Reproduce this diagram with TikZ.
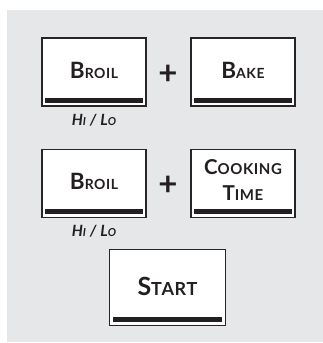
\documentclass[tikz,border=0pt]{standalone}
\usepackage{fontspec}
\setmainfont{Lato}
\usepackage{tikz}
\usetikzlibrary{positioning}

\definecolor{panelgray}{HTML}{E6E7E9}
\definecolor{keyline}{HTML}{262425}
\definecolor{keybar}{HTML}{231F20}

% fake small caps: big first letter, smaller rest
\newcommand{\capword}[4]{{\fontsize{#3}{#3}\selectfont #1}{\fontsize{#4}{#4}\selectfont #2}}
\newcommand{\hilo}{\bfseries\itshape{\fontsize{15.5}{15}\selectfont H}{\fontsize{11}{15}\selectfont I}\,\ {\fontsize{15.5}{15}\selectfont /}\ \,{\fontsize{15.5}{15}\selectfont L}{\fontsize{11}{15}\selectfont O}}

\begin{document}
\begin{tikzpicture}[x=1pt,y=-1pt,
  key/.style={draw=keyline,line width=1.8pt,fill=white,inner sep=0pt,
    minimum width=104pt,minimum height=68pt},
  keytext/.style={inner sep=0pt,anchor=base,font=\bfseries\addfontfeature{LetterSpace=4},text=keybar,align=center},
  plus/.style={inner sep=0pt,font=\bfseries\fontsize{33}{33}\selectfont,text=keybar},
  sub/.style={inner sep=0pt,anchor=base,text=keybar}]
\useasboundingbox (0,0) rectangle (323,343);
\fill[panelgray] (7,10) rectangle (323,342);
% top row
\node[key] (broilA) at (94,72.2) {};
\node[key] (bake) at (243,72.2) {};
\node[plus] (plusA) at (168,74.5) {+};
\node[keytext] (broilAtxt) at ([yshift=-6]broilA.center) {\capword{B}{ROIL}{22.5}{14}};
\node[keytext] (baketxt) at ([yshift=-6.5]bake.center) {\capword{B}{AKE}{22.5}{14}};
\node[sub] (hiloA) at ([yshift=-18]broilA.south) {\hilo};
% middle row
\node[key] (broilB) at (94,183.5) {};
\node[key] (cooking) at (243,183.5) {};
\node[plus] (plusB) at (168,185.5) {+};
\node[keytext] (broilBtxt) at ([yshift=-6]broilB.center) {\capword{B}{ROIL}{22.5}{14}};
\node[keytext] (cookingtxt) at ([yshift=-17]cooking.center) {\capword{C}{OOKING}{20.5}{15}\\[10pt]\capword{T}{IME}{20.5}{15}};
\node[sub] (hiloB) at ([yshift=-18]broilB.south) {\hilo};
% start key
\node[key,minimum width=116pt,minimum height=76pt] (start) at (167.5,287.5) {};
\node[keytext] (starttxt) at ([yshift=-7.5]start.center) {\capword{S}{TART}{25}{18}};
% bars at the bottom of each key
\foreach \k in {broilA,bake,broilB,cooking,start}
  \fill[keybar] ([shift={(4,-4.5)}]\k.south west) rectangle ([shift={(-4,-9)}]\k.south east);
\end{tikzpicture}
\end{document}
